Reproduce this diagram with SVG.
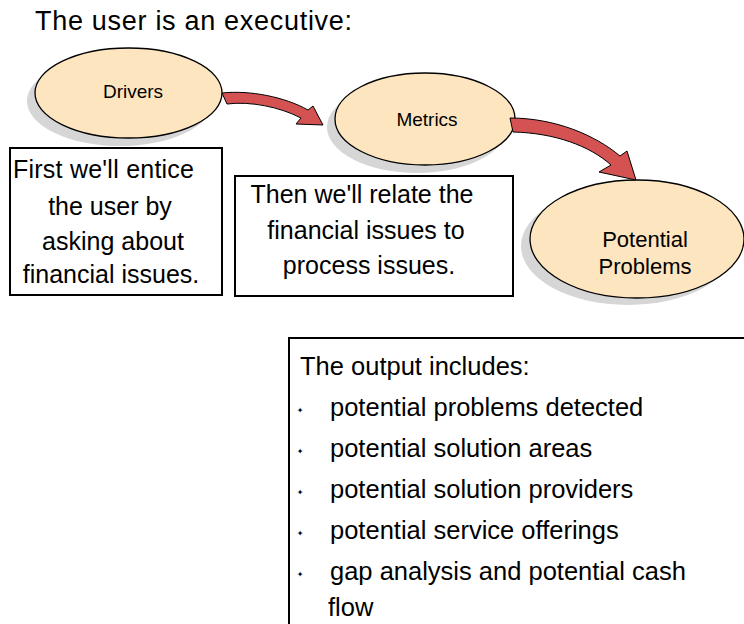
<svg xmlns="http://www.w3.org/2000/svg" width="744" height="624" viewBox="0 0 744 624">
  <style>
    text { font-family: "Liberation Sans", Arial, sans-serif; fill: #000; }
    .shadow { fill: #d6d6d6; }
    .bubble { fill: #fde5bf; stroke: #000; stroke-width: 1.3; }
    .note { fill: #fff; stroke: #000; stroke-width: 2; }
    .flow { fill: #d45252; stroke: #000; stroke-width: 1; stroke-linejoin: miter; }
    .bullet { font-family: "DejaVu Sans", sans-serif; font-size: 8px; }
    .body { font-size: 25px; }
    .list { font-size: 25.5px; }
  </style>

  <rect width="744" height="624" fill="#fff"/>

  <text x="35" y="30" font-size="27" textLength="317" lengthAdjust="spacing">The user is an executive:</text>

  <g id="drivers">
    <ellipse class="shadow" cx="120" cy="101" rx="93" ry="45"/>
    <ellipse class="bubble" cx="128.5" cy="93" rx="93.5" ry="45"/>
    <text x="133" y="98" font-size="19" text-anchor="middle">Drivers</text>
  </g>

  <g id="metrics">
    <ellipse class="shadow" cx="417" cy="127" rx="90" ry="46"/>
    <ellipse class="bubble" cx="425" cy="119" rx="90" ry="46"/>
    <text x="427" y="126" font-size="19" text-anchor="middle">Metrics</text>
  </g>

  <g id="potential-problems">
    <ellipse class="shadow" cx="628" cy="246" rx="107" ry="59"/>
    <ellipse class="bubble" cx="637" cy="239" rx="107" ry="59"/>
    <text x="645" y="247" font-size="22" text-anchor="middle">Potential</text>
    <text x="645" y="274" font-size="22" text-anchor="middle">Problems</text>
  </g>

  <g id="connectors">
    <path class="flow" d="M222,93 C250,90 285,97 308,110 L313,106 L323,125 L296,124 L301,118 C280,107 250,101 227,104 Z"/>
    <path class="flow" d="M510,118 C555,118 595,135 620,156 L627,151 L636,180 L599,172 L611,165 C590,146 555,133 513,132 Z"/>
  </g>

  <g id="note-drivers">
    <rect class="note" x="10" y="148" width="212" height="147"/>
    <text class="body" x="13" y="178" textLength="181" lengthAdjust="spacing">First we'll entice</text>
    <text class="body" x="110" y="215" text-anchor="middle">the user by</text>
    <text class="body" x="113" y="250" text-anchor="middle">asking about</text>
    <text class="body" x="111" y="283" text-anchor="middle">financial issues.</text>
  </g>

  <g id="note-metrics">
    <rect class="note" x="235" y="176" width="278" height="120"/>
    <text class="body" x="362" y="203" text-anchor="middle">Then we'll relate the</text>
    <text class="body" x="366" y="239" text-anchor="middle">financial issues to</text>
    <text class="body" x="369" y="274" text-anchor="middle">process issues.</text>
  </g>

  <g id="output-list">
    <rect class="note" x="289" y="338" width="500" height="320"/>
    <text class="list" x="300" y="375">The output includes:</text>
    <text class="bullet" x="300" y="413" text-anchor="middle">✦</text>
    <text class="list" x="330" y="416">potential problems detected</text>
    <text class="bullet" x="300" y="454" text-anchor="middle">✦</text>
    <text class="list" x="330" y="457">potential solution areas</text>
    <text class="bullet" x="300" y="495" text-anchor="middle">✦</text>
    <text class="list" x="330" y="498">potential solution providers</text>
    <text class="bullet" x="300" y="536" text-anchor="middle">✦</text>
    <text class="list" x="330" y="539">potential service offerings</text>
    <text class="bullet" x="300" y="577" text-anchor="middle">✦</text>
    <text class="list" x="330" y="580">gap analysis and potential cash</text>
    <text class="list" x="328" y="616">flow</text>
  </g>
</svg>
